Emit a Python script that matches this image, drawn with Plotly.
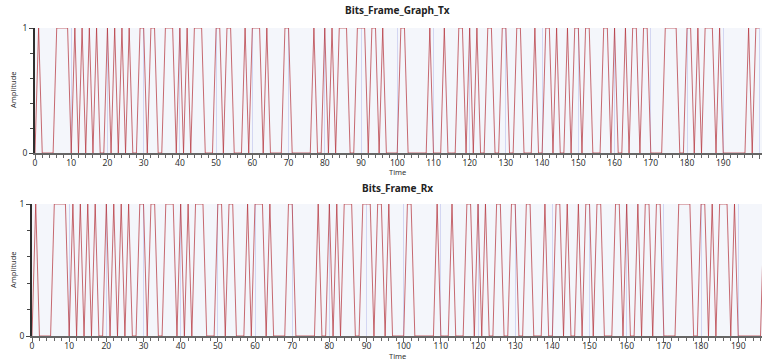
import plotly.graph_objects as go

W, H = 763, 360

# Bit values (time 0..200)
bits = [
    0, 1, 0, 0, 0, 0, 1, 1, 1, 1,
    0, 1, 0, 1, 0, 1, 0, 1, 0, 0,
    1, 0, 1, 0, 1, 0, 1, 0, 0, 1,
    1, 0, 1, 1, 0, 0, 1, 1, 1, 0,
    1, 0, 1, 0, 1, 1, 1, 0, 0, 0,
    1, 1, 0, 1, 1, 0, 0, 0, 1, 0,
    1, 1, 1, 0, 1, 0, 0, 0, 0, 1,
    1, 0, 0, 0, 0, 0, 0, 1, 0, 0,
    1, 0, 1, 0, 1, 1, 1, 0, 0, 1,
    1, 1, 0, 1, 1, 0, 1, 0, 0, 0,
    0, 1, 1, 0, 0, 0, 0, 0, 0, 1,
    0, 0, 0, 1, 0, 0, 0, 1, 1, 0,
    1, 0, 1, 0, 0, 1, 1, 0, 0, 1,
    1, 0, 0, 1, 1, 0, 0, 0, 1, 0,
    0, 1, 1, 0, 1, 0, 0, 1, 0, 1,
    1, 0, 1, 1, 0, 0, 0, 1, 1, 0,
    1, 0, 0, 1, 0, 1, 1, 0, 1, 1,
    0, 0, 0, 0, 1, 1, 1, 1, 0, 0,
    1, 1, 0, 1, 0, 1, 1, 1, 0, 1,
    0, 0, 0, 0, 0, 0, 0, 1, 0, 1,
    1,
]
tx_bits = bits
rx_bits = bits
time_tx = list(range(len(tx_bits)))
time_rx = list(range(len(rx_bits)))

x_ticks = list(range(0, 201, 10))
y_ticks = [0, 1]
titles = ["Bits_Frame_Graph_Tx", "Bits_Frame_Rx"]

FONT = "Noto Sans, Open Sans, DejaVu Sans, sans-serif"
LINE = "rgba(180,50,58,0.72)"

fig = go.Figure()
fig.add_trace(go.Scatter(x=time_tx, y=tx_bits, mode="lines", line=dict(color=LINE, width=1),
                         xaxis="x", yaxis="y", showlegend=False, hoverinfo="x+y"))
fig.add_trace(go.Scatter(x=time_rx, y=rx_bits, mode="lines", line=dict(color=LINE, width=1),
                         xaxis="x2", yaxis="y2", showlegend=False, hoverinfo="x+y"))

def px_x(p):
    return p / W

def px_y(p):
    return 1 - p / H

def xaxis(dom, rng, anchor):
    return dict(domain=dom, range=rng, anchor=anchor, tickvals=x_ticks, automargin=False,
                showgrid=True, gridcolor="#d3d6f2", gridwidth=1, zeroline=False,
                showline=True, linecolor="#666", linewidth=2,
                ticks="outside", ticklen=4, tickcolor="#666", tickwidth=1,
                ticklabelstandoff=-3,
                minor=dict(dtick=2, tick0=0, ticks="outside", ticklen=3, tickcolor="#666", showgrid=False),
                tickfont=dict(family=FONT, size=8.5, color="#333"), fixedrange=True)

def yaxis(dom, anchor):
    return dict(domain=dom, range=[0, 1], anchor=anchor, tickvals=y_ticks, automargin=False,
                showgrid=True, gridcolor="#c2c9da", gridwidth=2, zeroline=False,
                showline=True, linecolor="#2e2e2e", linewidth=2,
                ticks="outside", ticklen=4, tickcolor="#444", tickwidth=1,
                minor=dict(dtick=0.2, ticks="outside", ticklen=3, tickcolor="#444", showgrid=False),
                tickfont=dict(family=FONT, size=8.5, color="#333"), fixedrange=True)

fig.update_layout(
    width=W, height=H,
    margin=dict(l=0, r=0, t=0, b=0, pad=0),
    paper_bgcolor="white",
    plot_bgcolor="#f4f6fb",
    xaxis=xaxis([px_x(35), px_x(762)], [0, 200.7], "y"),
    yaxis=yaxis([px_y(153), px_y(28)], "x"),
    xaxis2=xaxis([px_x(32), px_x(762)], [0, 196.4], "y2"),
    yaxis2=yaxis([px_y(336), px_y(204)], "x2"),
    font=dict(family=FONT),
)

ann = []
for t, (cx, ty, tyt, ay) in zip(titles, [(398, 10, 172, 90), (397, 188, 356, 270)]):
    ann.append(dict(text="<b>" + t + "</b>", x=px_x(cx), y=px_y(ty), xref="paper", yref="paper",
                    showarrow=False, font=dict(size=10, color="#222", family=FONT), xanchor="center", yanchor="middle"))
    ann.append(dict(text="Time", x=px_x(cx), y=px_y(tyt), xref="paper", yref="paper",
                    showarrow=False, font=dict(size=7.5, color="#333", family=FONT), xanchor="center", yanchor="middle"))
    ann.append(dict(text="Amplitude", x=px_x(13), y=px_y(ay), xref="paper", yref="paper", textangle=-90,
                    showarrow=False, font=dict(size=7.5, color="#333", family=FONT), xanchor="center", yanchor="middle"))
fig.update_layout(annotations=ann)

fig.write_html("out.html",
               config={"displayModeBar": False},
               post_script="document.body.style.margin='0';document.body.style.overflow='hidden';")
